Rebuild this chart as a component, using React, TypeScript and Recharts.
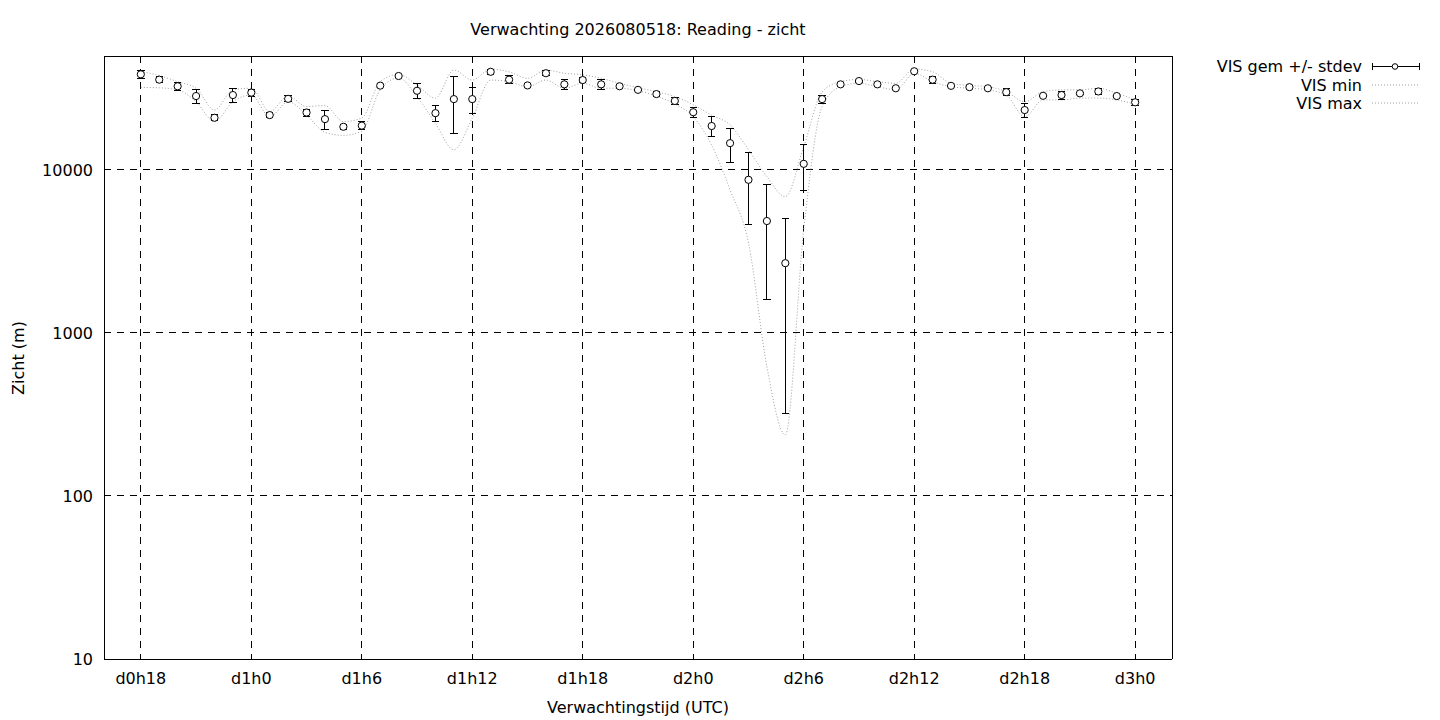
import React from 'react';
import {
  ComposedChart,
  Line,
  Scatter,
  XAxis,
  YAxis,
  CartesianGrid,
  ErrorBar,
  Legend,
  ReferenceLine,
} from 'recharts';

// forecast hour relative to d0h0
const hours = [
  18, 19, 20, 21, 22, 23, 24, 25, 26, 27, 28, 29, 30, 31, 32, 33, 34, 35, 36, 37,
  38, 39, 40, 41, 42, 43, 44, 45, 46, 47, 48, 49, 50, 51, 52, 53, 54, 55, 56, 57,
  58, 59, 60, 61, 62, 63, 64, 65, 66, 67, 68, 69, 70, 71, 72,
];

const visMean = [
  38600, 35800, 32600, 28400, 20900, 28800, 29800, 21700, 27300, 22500,
  20500, 18400, 18700, 32900, 37700, 30600, 22300, 27200, 27200, 40000,
  35800, 33000, 39200, 33500, 35600, 33500, 32600, 31000, 29200, 26500,
  22600, 18600, 14600, 8700, 4860, 2680, 10900, 27200, 33500, 35100,
  33500, 31700, 40300, 35800, 32800, 32200, 31700, 30000, 23300, 28500,
  28800, 29500, 30300, 28400, 26000,
];

const visStdev = [
  2400, 1500, 1900, 2800, 850, 2900, 1400, 780, 1170, 1080,
  2700, 660, 1080, 300, 300, 3100, 2400, 10400, 4950, 1400,
  2070, 300, 1400, 2280, 1390, 2200, 300, 300, 1050, 1270,
  1650, 2600, 3450, 4050, 3250, 2360, 3420, 1500, 300, 500,
  300, 300, 300, 1700, 300, 300, 300, 1450, 2400, 300,
  1670, 300, 1180, 300, 1050,
];

const visMin = [
  32100, 31900, 31000, 26200, 19800, 26200, 28800, 21200, 26200, 21700,
  17000, 16300, 17300, 31000, 36700, 28100, 19300, 13300, 20800, 35600,
  34800, 32400, 35600, 31700, 34000, 31700, 31700, 30600, 28400, 25400,
  21200, 14200, 7540, 3570, 621, 237, 4290, 24500, 32400, 34000,
  32400, 31000, 39200, 34800, 32400, 31700, 31000, 28800, 21200, 26900,
  26900, 27600, 27600, 26900, 25300,
];

const visMax = [
  40200, 37900, 34800, 31700, 23300, 31000, 31700, 22800, 28400, 24500,
  24800, 19800, 20800, 34800, 38600, 33200, 27600, 41000, 35600, 41600,
  40000, 36500, 41000, 39200, 38300, 36500, 34000, 32000, 30200, 28200,
  25100, 21700, 18900, 13300, 9100, 6860, 13900, 30100, 34800, 35900,
  34800, 34000, 41600, 40000, 34000, 33000, 32400, 30200, 26200, 30200,
  31000, 31000, 31700, 29500, 26900,
];

const xDomain = [16, 74];
const yDomain = [10, 50000];
const xTickHours = [18, 24, 30, 36, 42, 48, 54, 60, 66, 72];
const xTickLabels = ['d0h18', 'd1h0', 'd1h6', 'd1h12', 'd1h18', 'd2h0', 'd2h6', 'd2h12', 'd2h18', 'd3h0'];
const yTicks = [10, 100, 1000, 10000];
const yTickLabels = ['10', '100', '1000', '10000'];
const yMinorTicks = [
  20, 30, 40, 50, 60, 70, 80, 90,
  200, 300, 400, 500, 600, 700, 800, 900,
  2000, 3000, 4000, 5000, 6000, 7000, 8000, 9000,
  20000, 30000, 40000,
];

const titleText = 'Verwachting 2026080518: Reading - zicht';
const xLabelText = 'Verwachtingstijd (UTC)';
const yLabelText = 'Zicht (m)';
const legendNames = ['VIS gem +/- stdev', 'VIS min', 'VIS max'];

const data = hours.map((h, i) => ({
  h,
  mean: visMean[i],
  sd: visStdev[i],
  min: visMin[i],
  max: visMax[i],
}));

const FONT = 'DejaVu Sans, sans-serif';
const FS = 16;
const W = 1432;
const H = 712;
const GRAY = '#a0a0a0';
const DOT_DASH = '1 2';

const tickStyle = { fontSize: FS, fill: '#000', fontFamily: FONT };

const crispCss =
  '.recharts-cartesian-grid line, .recharts-cartesian-axis line, .recharts-reference-line line, .recharts-errorBar line { shape-rendering: crispEdges; }';

const OpenCircle = (props: any) => {
  const { cx, cy } = props;
  if (cx == null || cy == null) return null;
  return <circle cx={cx} cy={cy} r={3.6} fill="#fff" stroke="#000" strokeWidth={1} />;
};

// legend svg: origin at page (1180, 58)
const LegendContent = () => (
  <svg width={260} height={70} style={{ display: 'block', fontFamily: FONT }}>
    <text x={182} y={13.8} textAnchor="end" fontSize={FS} fill="#000">{legendNames[0]}</text>
    <line x1={192} y1={8.5} x2={240} y2={8.5} stroke="#000" strokeWidth={1} />
    <line x1={192.5} y1={5} x2={192.5} y2={12} stroke="#000" strokeWidth={1} />
    <line x1={239.5} y1={5} x2={239.5} y2={12} stroke="#000" strokeWidth={1} />
    <circle cx={215} cy={8.5} r={2.8} fill="#fff" stroke="#000" strokeWidth={1} />
    <text x={182} y={32.6} textAnchor="end" fontSize={FS} fill="#000">{legendNames[1]}</text>
    <line x1={192} y1={27} x2={240} y2={27} stroke={GRAY} strokeWidth={1} strokeDasharray={DOT_DASH} />
    <text x={182} y={50.8} textAnchor="end" fontSize={FS} fill="#000">{legendNames[2]}</text>
    <line x1={192} y1={45} x2={240} y2={45} stroke={GRAY} strokeWidth={1} strokeDasharray={DOT_DASH} />
  </svg>
);

export default function App() {
  return (
    <div style={{ width: W, height: H, fontFamily: FONT }}>
      <style>{crispCss}</style>
      <ComposedChart
        width={W}
        height={H}
        data={data}
        margin={{ top: 48, right: 268, bottom: 31, left: 0 }}
        style={{ fontFamily: FONT }}
      >
        <CartesianGrid stroke="#000" strokeWidth={1} strokeDasharray="7 6" syncWithTicks />
        <XAxis
          dataKey="h"
          type="number"
          domain={xDomain}
          allowDataOverflow
          ticks={xTickHours}
          interval={0}
          tickFormatter={(v: number) => xTickLabels[xTickHours.indexOf(v)] ?? ''}
          tick={tickStyle}
          tickLine={false}
          tickMargin={8}
          axisLine={{ stroke: '#000', strokeWidth: 1 }}
          height={30}
        />
        <YAxis
          type="number"
          scale="log"
          domain={yDomain}
          allowDataOverflow
          ticks={yTicks}
          interval={0}
          tickFormatter={(v: number) => yTickLabels[yTicks.indexOf(v)] ?? ''}
          tick={tickStyle}
          tickLine={false}
          tickMargin={5}
          axisLine={{ stroke: '#000', strokeWidth: 1 }}
          width={96}
        />
        <YAxis
          yAxisId="minorL"
          type="number"
          scale="log"
          orientation="left"
          mirror
          domain={yDomain}
          allowDataOverflow
          ticks={yMinorTicks}
          interval={0}
          tick={false}
          tickSize={5}
          tickLine={{ stroke: '#000', strokeWidth: 1 }}
          axisLine={false}
          width={40}
        />
        <YAxis
          yAxisId="minorR"
          type="number"
          scale="log"
          orientation="right"
          mirror
          domain={yDomain}
          allowDataOverflow
          ticks={yMinorTicks}
          interval={0}
          tick={false}
          tickSize={5}
          tickLine={{ stroke: '#000', strokeWidth: 1 }}
          axisLine={false}
          width={40}
        />
        <ReferenceLine y={yDomain[1]} stroke="#000" strokeWidth={1} ifOverflow="visible" />
        <ReferenceLine x={xDomain[1]} stroke="#000" strokeWidth={1} ifOverflow="visible" />
        <Line
          type="monotone"
          dataKey="min"
          name={legendNames[1]}
          stroke={GRAY}
          strokeWidth={1}
          strokeDasharray={DOT_DASH}
          dot={false}
          activeDot={false}
          isAnimationActive={false}
        />
        <Line
          type="monotone"
          dataKey="max"
          name={legendNames[2]}
          stroke={GRAY}
          strokeWidth={1}
          strokeDasharray={DOT_DASH}
          dot={false}
          activeDot={false}
          isAnimationActive={false}
        />
        <Scatter
          dataKey="mean"
          name={legendNames[0]}
          shape={OpenCircle}
          isAnimationActive={false}
        >
          <ErrorBar dataKey="sd" direction="y" width={3.7} stroke="#000" strokeWidth={1} />
        </Scatter>
        <Legend
          layout="horizontal"
          verticalAlign="middle"
          align="center"
          content={LegendContent}
          wrapperStyle={{ left: 1172, top: 50, width: 260, height: 70 }}
        />
        <text x={630} y={27} textAnchor="middle" fontSize={FS} fontFamily={FONT} fill="#000">
          {titleText}
        </text>
        <text x={630} y={705} textAnchor="middle" fontSize={FS} fontFamily={FONT} fill="#000">
          {xLabelText}
        </text>
        <text
          x={16}
          y={350}
          textAnchor="middle"
          fontSize={FS}
          fontFamily={FONT}
          fill="#000"
          transform="rotate(-90, 16, 350)"
        >
          {yLabelText}
        </text>
      </ComposedChart>
    </div>
  );
}
